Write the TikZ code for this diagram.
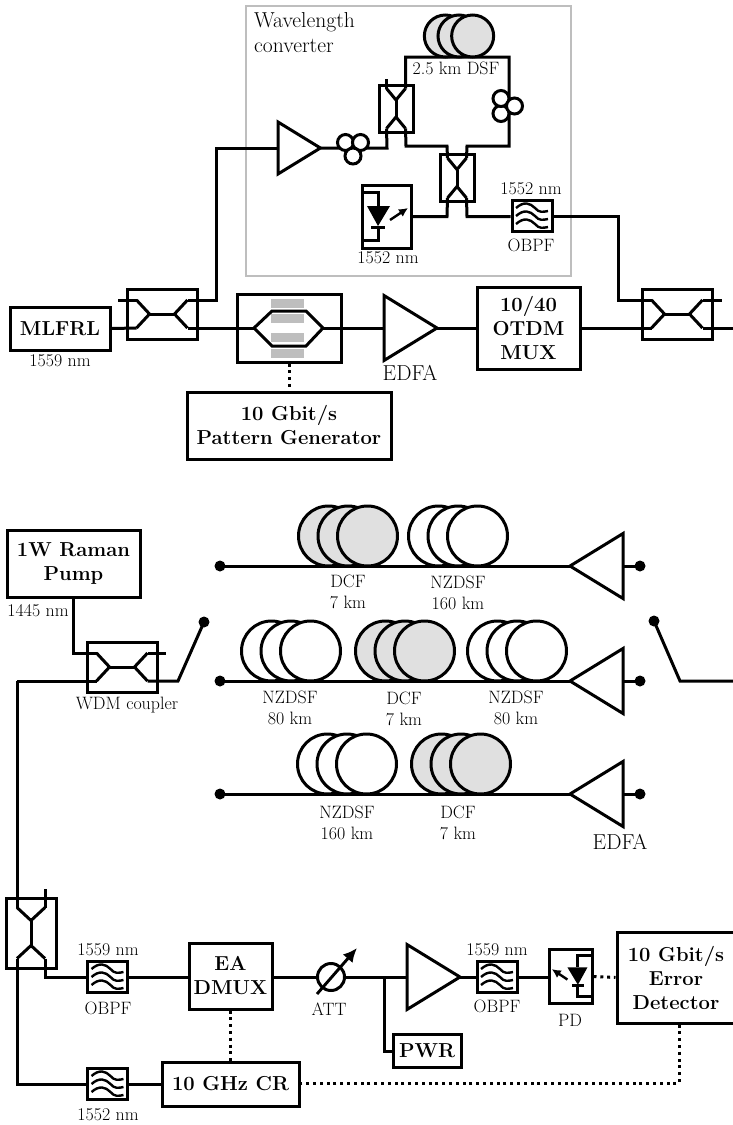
\documentclass[tikz,border=0pt]{standalone}
\usepackage{fontspec}
\setmainfont{Latin Modern Roman}
\usepackage{xcolor}
\usepackage{tikz}
\usetikzlibrary{arrows.meta,positioning}
\definecolor{clframe}{RGB}{190,190,190}
\definecolor{clcore}{RGB}{224,224,224}
\tikzset{
  clbox/.style={draw=black, line width=3pt, inner sep=0pt, align=center,
    font=\fontsize{20.2}{24}\selectfont\bfseries},
  cllabel/.style={inner sep=0pt, align=center, font=\fontsize{17.9}{21}\selectfont},
  clbig/.style={inner sep=0pt, align=left, font=\fontsize{21.6}{24.5}\selectfont},
  clfiber/.style={draw=black, line width=3pt, line join=miter},
  clsignal/.style={draw=black, line width=3pt, dash pattern=on 3pt off 3.8pt},
  cldot/.style={circle, fill=black, inner sep=0pt, minimum size=11pt},
  clcpl/.pic={
    \node[draw=black, line width=3pt, transform shape, minimum width=70pt, minimum height=50pt] (-box) at (0,0) {};
    \coordinate (-a) at (-25.5,-14);
    \coordinate (-b) at (-25.5,14);
    \coordinate (-c) at (25.5,-14);
    \coordinate (-d) at (25.5,14);
    \draw[clfiber] (-a) -- (-12.5,0) -- (-b);
    \draw[clfiber] (-c) -- (12.5,0) -- (-d);
    \draw[clfiber] (-12.5,0) -- (12.5,0);
  },
  clcplv/.pic={
    \node[draw=black, line width=3pt, minimum width=34pt, minimum height=47pt] (-box) at (0,0) {};
    \coordinate (-a) at (-9.5,-20);
    \coordinate (-b) at (9.5,-20);
    \coordinate (-c) at (-9.5,20);
    \coordinate (-d) at (9.5,20);
    \draw[clfiber] (-a) -- (0,-8.5) -- (-b);
    \draw[clfiber] (-c) -- (0,8.5) -- (-d);
    \draw[clfiber] (0,-8.5) -- (0,8.5);
  },
  clamp/.pic={
    \coordinate (-in) at (0,0);
    \coordinate (-out) at (53,0);
    \draw[clfiber, fill=white] (0,-32.5) -- (-out) -- (0,32.5) -- cycle;
  },
  clpol/.pic={
    \draw[clfiber, fill=white] (-7.5,-4.5) circle[radius=8];
    \draw[clfiber, fill=white] (7.5,-4.5) circle[radius=8];
    \draw[clfiber, fill=white] (0,9) circle[radius=8];
  },
  pics/clspool/.style={code={
    \foreach \dx in {-19.5,0,19.5}
      \draw[clfiber, fill=#1] (\dx,-30) circle[radius=30];
  }},
  clfilter/.pic={
    \node[draw=black, line width=3pt, minimum width=40pt, minimum height=31pt] (-box) at (0,0) {};
    \foreach \wy in {-8,0,8}
      \draw[black, line width=2.4pt] (-16,\wy) .. controls (-8,\wy-7) and (-2,\wy-5) .. (3,\wy)
        .. controls (7,\wy+5) and (11,\wy+4) .. (16,\wy+3);
  },
  cldiode/.pic={
    \fill[black] (-19.5,-10.5) -- (3.5,-10.5) -- (-8.5,9.5) -- cycle;
    \draw[clfiber] (-15.5,10.5) -- (-1.5,10.5);
    \draw[clfiber] (-24,-24.5) -- (-8.5,-24.5) -- (-8.5,-10.5);
    \draw[clfiber] (-8.5,10.5) -- (-8.5,23.5) -- (-24,23.5);
    \draw[black, line width=2.4pt, -{Latex[length=9pt,width=9pt]}] (3.5,3.5) -- (21.5,-8.5);
  }
}
\begin{document}
\begin{tikzpicture}[x=1pt,y=-1pt]
  \useasboundingbox (0,0) rectangle (733,1125);
  % wavelength converter
  \node[draw=clframe, line width=2.8pt, minimum width=325pt, minimum height=270pt] (mConv) at (408.5,141) {};
  \node[clbig, anchor=north west] (lConv) at (254,12.5) {Wavelength\\converter};
  \pic (cW) at (396,108.5) {clcplv};
  \pic (cX) at (457,178) {clcplv};
  \coordinate (pS) at (405.5,57);
  \coordinate (pT) at (509,57);
  \coordinate (pU) at (509,146);
  \coordinate (pV) at (387,148);
  \coordinate (pW) at (406,146);
  \coordinate (pZ) at (447,146);
  \coordinate (pY) at (467,146);
  \coordinate (pQ) at (386.5,79);
  \coordinate (pP) at (447,216.5);
  \coordinate (pR) at (467,216.5);
  \draw[clfiber] (cW-b) -- (pS) -- (pT) -- (pU) -- (pY) -- (cX-b);
  \draw[clfiber] (cW-a) -- (pQ);
  \draw[clfiber] (cW-d) -- (pW) -- (pZ) -- (cX-a);
  \pic[scale=.7] (sW) at (459,57) {clspool=clcore};
  \node[cllabel] (lDsf) at (456,68) {2.5 km DSF};
  \pic[rotate=90] (pC2) at (505.5,106) {clpol};
  \node[clbox, minimum width=49pt, minimum height=63pt] (mDet) at (386.5,216.5) {};
  \pic at (386.5,216.5) {cldiode};
  \node[cllabel] (lDet) at (388,258) {1552 nm};
  \pic (fW) at (532,216) {clfilter};
  \node[cllabel] (lFwa) at (531,189) {1552 nm};
  \node[cllabel] (lFwb) at (531,245) {OBPF};
  \draw[clfiber] (cX-c) -- (pP) -- (mDet.east |- pP);
  \draw[clfiber] (cX-d) -- (pR) -- (fW-box.west |- pR);
  \pic[scale=.8] (aW) at (278,148) {clamp};
  \coordinate (pI) at (216,148);
  \draw[clfiber] (aW-out) -- (pV) -- (cW-c);
  \pic (pC1) at (353,147) {clpol};
  % transmitter
  \node[clbox, minimum width=100pt, minimum height=43pt] (mLas) at (60,328.5) {MLFRL};
  \node[cllabel] (lLas) at (60,361) {1559 nm};
  \pic (cA) at (162,314) {clcpl};
  \coordinate (pA) at (118,300);
  \draw[clfiber] (pA) -- (cA-a);
  \draw[clfiber] (mLas.east) -- (cA-b);
  \draw[clfiber] (cA-c) -- (pI |- cA-c) -- (pI) -- (aW-in);
  \node[draw=black, line width=3pt, minimum width=104pt, minimum height=68pt] (mMod) at (289,328) {};
  \foreach \by in {303.5,318.5,337.5,353.5}
    \fill[clframe] (271,\by-4.5) rectangle (304,\by+4.5);
  \coordinate (pB) at (254,328);
  \coordinate (pD) at (323,328);
  \draw[clfiber] (pB) -- (272,311) -- (306,311) -- (pD) -- (306,346) -- (272,346) -- cycle;
  \draw[clfiber] (cA-d) -- (pB);
  \pic (aT) at (384,328) {clamp};
  \draw[clfiber] (pD) -- (aT-in);
  \node[clbig, align=center] (lEdt) at (410,373) {EDFA};
  \node[clbox, minimum width=103pt, minimum height=82pt] (mOtd) at (528.5,328) {10/40\\OTDM\\MUX};
  \draw[clfiber] (aT-out) -- (mOtd.west);
  \node[clbox, minimum width=204pt, minimum height=67pt] (mPat) at (289,425.5) {10 Gbit/s\\Pattern Generator};
  \draw[clsignal] (mMod.south) -- (mPat.north);
  \pic (cB) at (677,314) {clcpl};
  \coordinate (pE) at (618,216.5);
  \coordinate (pF) at (618,300);
  \coordinate (pG) at (722,300);
  \coordinate (pH) at (733,328);
  \draw[clfiber] (fW-box.east |- pE) -- (pE) -- (pF) -- (cB-a);
  \draw[clfiber] (mOtd.east) -- (cB-b);
  \draw[clfiber] (cB-c) -- (pG);
  \draw[clfiber] (cB-d) -- (pH);
  % fiber span
  \node[clbox, minimum width=133pt, minimum height=67pt] (mRam) at (73.5,563.5) {1W Raman\\Pump};
  \node[cllabel] (lRam) at (38,611) {1445 nm};
  \pic (cC) at (122,667) {clcpl};
  \node[cllabel] (lWdm) at (127,705) {WDM coupler};
  \coordinate (pJ) at (73.5,653);
  \coordinate (pK) at (166,653);
  \coordinate (pL) at (17,681);
  \coordinate (pM) at (178,681);
  \draw[clfiber] (mRam.south -| pJ) -- (pJ) -- (cC-a);
  \draw[clfiber] (cC-c) -- (pK);
  \node[cldot] (dS) at (204,622) {};
  \draw[clfiber] (cC-d) -- (pM) -- (dS.center);
  \node[cldot] (dA) at (220,566) {};
  \node[cldot] (dB) at (220,681) {};
  \node[cldot] (dC) at (220,794) {};
  \node[cldot] (dD) at (640,566) {};
  \node[cldot] (dE) at (640,681) {};
  \node[cldot] (dF) at (640,794) {};
  \node[cldot] (dT) at (654,621) {};
  \coordinate (pN) at (680,681);
  \coordinate (pO) at (733,681);
  \draw[clfiber] (dT.center) -- (pN) -- (pO);
  \pic[xscale=-1] (aA) at (623,566) {clamp};
  \pic[xscale=-1] (aB) at (623,681) {clamp};
  \pic[xscale=-1] (aC) at (623,794) {clamp};
  \draw[clfiber] (dA.center) -- (aA-out);
  \draw[clfiber] (dB.center) -- (aB-out);
  \draw[clfiber] (dC.center) -- (aC-out);
  \draw[clfiber] (aA-in) -- (dD.center);
  \draw[clfiber] (aB-in) -- (dE.center);
  \draw[clfiber] (aC-in) -- (dF.center);
  \pic (sA) at (348,566) {clspool=clcore};
  \pic (sB) at (458,566) {clspool=white};
  \pic (sC) at (291,681) {clspool=white};
  \pic (sD) at (405,681) {clspool=clcore};
  \pic (sE) at (517,681) {clspool=white};
  \pic (sF) at (347,794) {clspool=white};
  \pic (sG) at (461,794) {clspool=clcore};
  \node[cllabel] (lSa) at (348,591.5) {DCF\\7 km};
  \node[cllabel] (lSb) at (458,593) {NZDSF\\160 km};
  \node[cllabel] (lSc) at (290,707.5) {NZDSF\\80 km};
  \node[cllabel] (lSd) at (404,708.5) {DCF\\7 km};
  \node[cllabel] (lSe) at (516,707.5) {NZDSF\\80 km};
  \node[cllabel] (lSf) at (347,822.5) {NZDSF\\160 km};
  \node[cllabel] (lSg) at (458,822.5) {DCF\\7 km};
  \node[clbig, align=center] (lEdf) at (620,842) {EDFA};
  % receiver
  \pic[rotate=90] (cD) at (31,933) {clcpl};
  \coordinate (pC) at (45,889);
  \draw[clfiber] (pL) -- (cD-c);
  \draw[clfiber] (pL) -- (cC-b);
  \draw[clfiber] (cD-d) -- (pC);
  \pic (fA) at (107.5,977) {clfilter};
  \node[cllabel] (lFaa) at (108,950) {1559 nm};
  \node[cllabel] (lFab) at (108,1008) {OBPF};
  \node[clbox, minimum width=83pt, minimum height=66pt] (mDmx) at (230.5,976) {EA\\DMUX};
  \coordinate (p1) at (45,977);
  \draw[clfiber] (cD-b) -- (p1) -- (fA-box.west |- p1);
  \draw[clfiber] (fA-box.east |- p1) -- (mDmx.west |- p1);
  \pic (fB) at (107.5,1084) {clfilter};
  \node[cllabel] (lFb) at (108,1115) {1552 nm};
  \node[clbox, minimum width=137pt, minimum height=44pt] (mCr) at (230.5,1084) {10 GHz CR};
  \coordinate (p2) at (17,1084);
  \draw[clfiber] (cD-a) -- (p2) -- (fB-box.west);
  \draw[clfiber] (fB-box.east) -- (mCr.west);
  \draw[clsignal] (mDmx.south) -- (mCr.north);
  \draw[clfiber] (mDmx.east |- p1) -- (318,977);
  \draw[clfiber] (331,977) circle[radius=13.5];
  \node[cllabel] (lAtt) at (329,1009) {ATT};
  \coordinate (pAtt) at (331,977);
  \draw[black, line width=2.9pt, -{Latex[length=14pt,width=13pt]}] (317,994) -- (357,948);
  \pic (aR) at (407,977) {clamp};
  \coordinate (p3) at (384,977);
  \coordinate (p4) at (384,1051);
  \draw[clfiber] (344.5,977) -- (aR-in);
  \node[clbox, minimum width=68pt, minimum height=33pt] (mPwr) at (427,1051) {PWR};
  \draw[clfiber] (p3) -- (p4) -- (mPwr.west);
  \pic (fC) at (497,977) {clfilter};
  \node[cllabel] (lFca) at (497,950) {1559 nm};
  \node[cllabel] (lFcb) at (497,1006) {OBPF};
  \draw[clfiber] (aR-out) -- (fC-box.west);
  \node[clbox, minimum width=43pt, minimum height=54pt] (mPd) at (570.5,976.5) {};
  \pic[xscale=-.87, yscale=.87] at (570.5,976.5) {cldiode};
  \node[cllabel] (lPd) at (570,1020) {PD};
  \draw[clfiber] (fC-box.east) -- (mPd.west |- fC-box.east);
  \node[clbox, minimum width=118pt, minimum height=91pt] (mErr) at (676,977.5) {10 Gbit/s\\Error\\Detector};
  \draw[clsignal] (mPd.east) -- (mErr.west);
  \coordinate (p5) at (679,1083);
  \draw[clsignal] (mErr.south -| p5) -- (p5) -- (mCr.east |- p5);
\end{tikzpicture}
\end{document}
